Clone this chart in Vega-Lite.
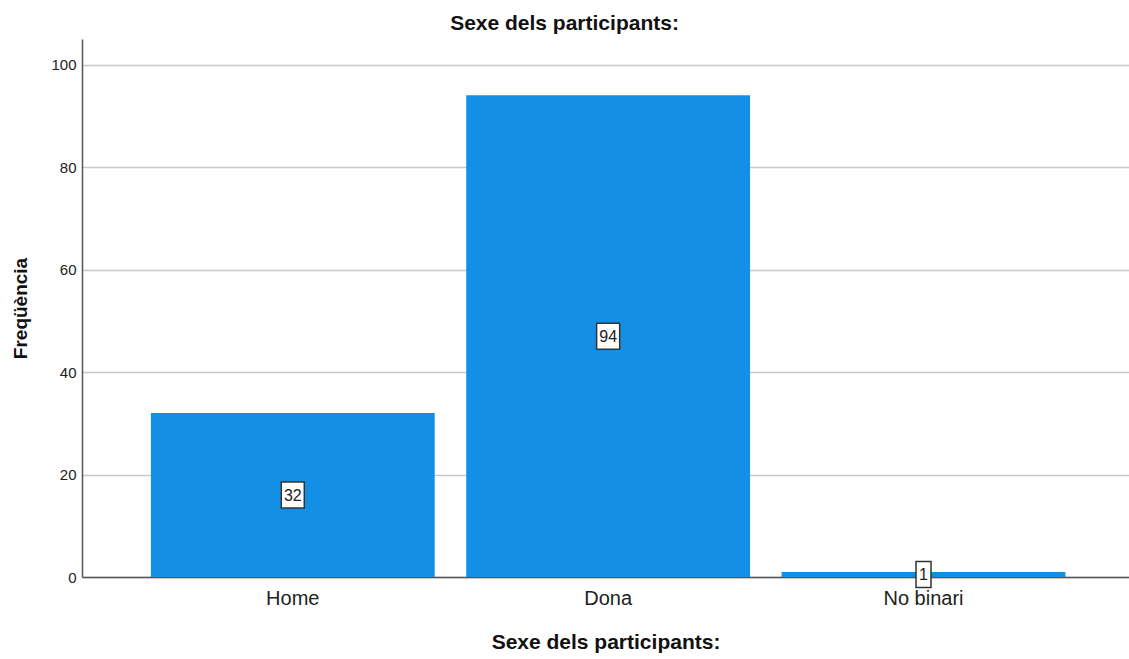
{
  "$schema": "https://vega.github.io/schema/vega-lite/v6.json",
  "autosize": "none",
  "width": 1047,
  "height": 538,
  "padding": {"left": 82, "top": 39, "right": 0, "bottom": 82},
  "background": "white",
  "title": {
    "text": "Sexe dels participants:",
    "anchor": "middle",
    "frame": "group",
    "dx": -41,
    "dy": 21,
    "font": "Liberation Sans",
    "fontSize": 21,
    "fontWeight": "bold",
    "color": "#111",
    "baseline": "alphabetic",
    "offset": 9
  },
  "config": {
    "view": {"stroke": null},
    "font": "Liberation Sans"
  },
  "data": {
    "values": [
      {"Sexe": "Home", "Freq": 32},
      {"Sexe": "Dona", "Freq": 94},
      {"Sexe": "No binari", "Freq": 1}
    ]
  },
  "encoding": {
    "x": {
      "field": "Sexe",
      "type": "nominal",
      "sort": ["Home", "Dona", "No binari"],
      "scale": {"paddingInner": 0.1, "paddingOuter": 0.21, "align": 0.52},
      "axis": {
        "title": "Sexe dels participants:",
        "titleFont": "Liberation Sans",
        "titleFontSize": 21,
        "titleFontWeight": "bold",
        "titleColor": "#111",
        "titlePadding": 23,
        "labelFont": "Liberation Sans",
        "labelFontSize": 20,
        "labelColor": "#222",
        "labelAngle": 0,
        "labelPadding": 11,
        "ticks": false,
        "domainColor": "#555",
        "domainWidth": 1.5,
        "grid": false
      }
    }
  },
  "layer": [
    {
      "mark": {"type": "bar", "color": "#1390E6"},
      "encoding": {
        "y": {
          "field": "Freq",
          "type": "quantitative",
          "scale": {"domain": [0, 105], "nice": false},
          "axis": {
            "title": "Freqüència",
            "titleFont": "Liberation Sans",
            "titleFontSize": 19,
            "titleFontWeight": "bold",
            "titleColor": "#111",
            "titlePadding": 20,
            "values": [0, 20, 40, 60, 80, 100],
            "labelFont": "Liberation Sans",
            "labelFontSize": 15,
            "labelColor": "#222",
            "labelPadding": 6,
            "ticks": false,
            "domainColor": "#555",
            "domainWidth": 1.5,
            "grid": true,
            "gridColor": "#c8c8c8",
            "gridWidth": 1.5
          }
        }
      }
    },
    {
      "mark": {"type": "point", "filled": true, "fill": "white", "stroke": "#333", "strokeWidth": 1.5, "opacity": 1, "size": 676},
      "encoding": {
        "y": {"field": "Freq", "type": "quantitative", "scale": {"domain": [0, 210], "nice": false}, "axis": null},
        "shape": {
          "field": "Sexe",
          "type": "nominal",
          "scale": {
            "domain": ["Home", "Dona", "No binari"],
            "range": ["M-0.885,-1H0.885V1H-0.885Z", "M-0.885,-1H0.885V1H-0.885Z", "M-0.577,-1H0.577V1H-0.577Z"]
          },
          "legend": null
        }
      }
    },
    {
      "mark": {"type": "text", "font": "Liberation Sans", "fontSize": 16, "color": "#222", "baseline": "middle", "align": "center", "dy": 1},
      "encoding": {
        "y": {"field": "Freq", "type": "quantitative", "scale": {"domain": [0, 210], "nice": false}, "axis": null},
        "text": {"field": "Freq", "type": "quantitative"}
      }
    }
  ],
  "resolve": {"scale": {"y": "independent"}}
}
